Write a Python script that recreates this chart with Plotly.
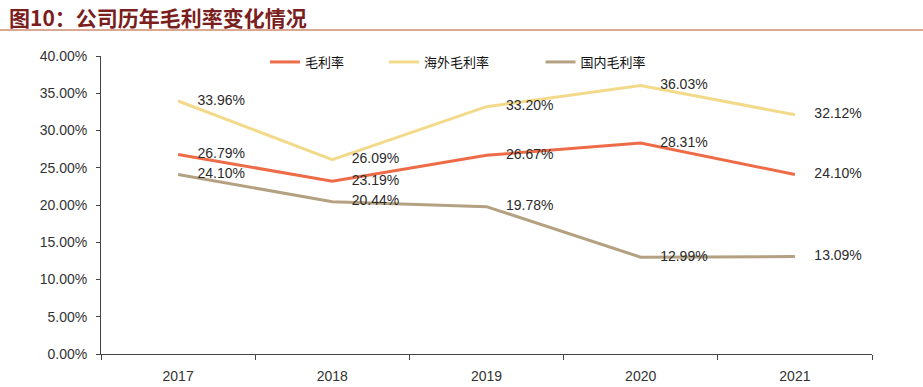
import plotly.graph_objects as go

years = ["2017", "2018", "2019", "2020", "2021"]
gross = [0.2679, 0.2319, 0.2667, 0.2831, 0.2410]
overseas = [0.3396, 0.2609, 0.3320, 0.3603, 0.3212]
domestic = [0.2410, 0.2044, 0.1978, 0.1299, 0.1309]
series_names = ["毛利率", "海外毛利率", "国内毛利率"]
colors = ["#EE6B47", "#F2DA8A", "#B4A182"]
y_ticks = [0, 0.05, 0.10, 0.15, 0.20, 0.25, 0.30, 0.35, 0.40]

cjk = "Noto Sans CJK SC"
num_font = "Liberation Sans, Arial, sans-serif"
pad = "\u00a0" * 5
legend_pad = [12, 16, 0]

fig = go.Figure()
for name, vals, col, lp in zip(series_names, [gross, overseas, domestic], colors, legend_pad):
    fig.add_trace(go.Scatter(
        x=years, y=vals, name=name + "\u00a0" * lp, mode="lines+text",
        line=dict(color=col, width=3),
        text=[f"{pad}{v*100:.2f}%" for v in vals],
        textposition="middle right",
        textfont=dict(family=num_font, size=14, color="#2b2b2b"),
        cliponaxis=False, hoverinfo="x+y"))

W, H = 923, 387
L, R, T, B = 101, 51, 56, 33
pw, ph = W - L - R, H - T - B

fig.update_layout(
    width=W, height=H,
    margin=dict(l=L, r=R, t=T, b=B, autoexpand=False),
    paper_bgcolor="white", plot_bgcolor="white",
    annotations=[dict(text="<b>图10：公司历年毛利率变化情况</b>", xref="paper", yref="paper",
                      x=-(L - 7) / pw, y=1 + (T - 17) / ph, xanchor="left", yanchor="middle",
                      showarrow=False, font=dict(family=cjk, size=21, color="#7A1E1E"))],
    shapes=[dict(type="line", xref="paper", yref="paper", x0=-L / pw, x1=(W - L) / pw,
                 y0=1 + (T - 30) / ph, y1=1 + (T - 30) / ph,
                 line=dict(color="#B5542F", width=1.2))],
    legend=dict(orientation="h", x=(265 - L) / pw, y=1 + (T - 47) / ph,
                xanchor="left", yanchor="top",
                font=dict(family=cjk, size=13, color="#111111"),
                bgcolor="rgba(0,0,0,0)"),
    showlegend=True,
)
fig.update_xaxes(type="category", showline=True, linecolor="#444444", linewidth=1,
                 ticks="outside", tickson="boundaries", ticklen=5, tickcolor="#444444",
                 showgrid=False, ticklabelstandoff=9,
                 tickfont=dict(family=num_font, size=14, color="#333333"),
                 range=[-0.5, 4.5])
fig.update_yaxes(range=[0, 0.4], tickvals=y_ticks, tickformat=".2%", showline=True,
                 linecolor="#444444", linewidth=1, ticks="outside", ticklen=4,
                 tickcolor="#444444", showgrid=False, zeroline=False,
                 ticklabelstandoff=6,
                 tickfont=dict(family=num_font, size=14, color="#333333"))

fig.write_html("out.html", config={"displayModeBar": False},
               post_script="document.body.style.margin='0';")
